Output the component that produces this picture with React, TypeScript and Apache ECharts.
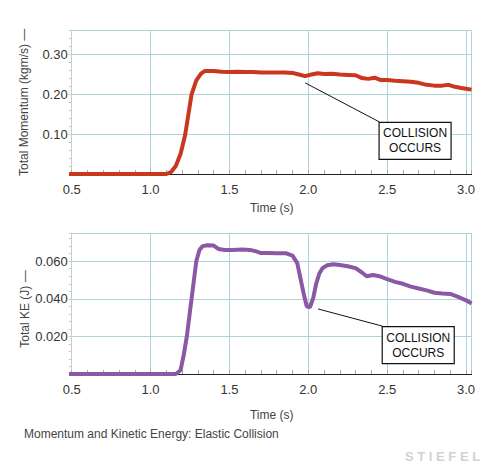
import React, { useEffect, useRef } from "react";
import * as echarts from "echarts";

const momentumTime = [0.475, 1.1, 1.13, 1.16, 1.19, 1.22, 1.24, 1.26, 1.29, 1.32, 1.345, 1.4, 1.45, 1.5, 1.55, 1.6, 1.65, 1.7, 1.75, 1.8, 1.85, 1.9, 1.94, 1.98, 2.02, 2.06, 2.1, 2.15, 2.2, 2.25, 2.3, 2.34, 2.38, 2.42, 2.46, 2.5, 2.55, 2.6, 2.65, 2.7, 2.75, 2.8, 2.85, 2.89, 2.93, 2.97, 3.0, 3.035];
const momentumValue = [0, 0, 0.005, 0.02, 0.05, 0.1, 0.15, 0.2, 0.235, 0.252, 0.259, 0.259, 0.257, 0.256, 0.257, 0.256, 0.256, 0.255, 0.255, 0.255, 0.255, 0.254, 0.25, 0.246, 0.25, 0.253, 0.251, 0.252, 0.25, 0.249, 0.248, 0.241, 0.239, 0.242, 0.236, 0.236, 0.234, 0.233, 0.232, 0.229, 0.224, 0.222, 0.222, 0.224, 0.219, 0.216, 0.214, 0.212];

const keTime = [0.475, 1.16, 1.19, 1.21, 1.23, 1.245, 1.26, 1.275, 1.29, 1.31, 1.33, 1.36, 1.4, 1.43, 1.47, 1.52, 1.58, 1.63, 1.67, 1.7, 1.75, 1.8, 1.86, 1.9, 1.93, 1.95, 1.97, 1.99, 2.01, 2.03, 2.05, 2.07, 2.09, 2.12, 2.16, 2.2, 2.25, 2.3, 2.34, 2.37, 2.41, 2.45, 2.5, 2.55, 2.6, 2.65, 2.7, 2.75, 2.8, 2.85, 2.9, 2.95, 3.0, 3.035];
const keValue = [0, 0, 0.002, 0.01, 0.02, 0.03, 0.04, 0.05, 0.06, 0.066, 0.068, 0.0685, 0.0683, 0.0665, 0.066, 0.066, 0.0662, 0.066, 0.0652, 0.0643, 0.0643, 0.0642, 0.0642, 0.063, 0.059, 0.051, 0.043, 0.036, 0.0355, 0.04, 0.048, 0.0535, 0.0563, 0.0578, 0.0584, 0.058, 0.0573, 0.0563, 0.054, 0.052, 0.0527, 0.052, 0.0505, 0.049, 0.048, 0.0465, 0.0455, 0.0445, 0.0432, 0.0428, 0.0426, 0.041, 0.0392, 0.0375];

const annotationText = ["COLLISION", "OCCURS"];
// [gridIndex, pointer start (t, v), pointer end (t, v), box centre (t, v)]
const annotations = [
  { grid: 0, from: [1.98, 0.229], to: [2.45, 0.131], box: [2.677, 0.083] },
  { grid: 1, from: [2.062, 0.0346], to: [2.468, 0.0255], box: [2.697, 0.0154] },
];

const momentumName = "Total Momentum (kgm/s) —";
const keName = "Total KE (J) —";
const caption = "Momentum and Kinetic Energy: Elastic Collision";
const watermark = "STIEFEL";

const FONT = "'Liberation Sans', Arial, sans-serif";
const GRIDLINE = "#acd5d9";

function makeX(gridIndex: number, nameGap: number) {
  return {
    type: "value",
    gridIndex,
    min: 0.5,
    max: 3.036,
    interval: 0.5,
    name: "Time (s)",
    nameLocation: "middle",
    nameGap,
    nameTextStyle: { fontFamily: FONT, fontSize: 12, color: "#444" },
    axisLine: { show: true, lineStyle: { color: "#222", width: 1 } },
    axisTick: { show: true, inside: true, length: 4, lineStyle: { color: "#aaa" } },
    minorTick: { show: true, splitNumber: 5, length: 4, lineStyle: { color: "#aaa" } },
    axisLabel: {
      fontFamily: FONT,
      fontSize: 13,
      color: "#333",
      margin: 9,
      formatter: (v: number) => (v > 3.01 ? "" : v.toFixed(1)),
    },
    splitLine: { show: true, lineStyle: { color: GRIDLINE, width: 1 } },
  };
}

function makeY(gridIndex: number, max: number, interval: number, digits: number, name: string) {
  return {
    type: "value",
    gridIndex,
    min: 0,
    max,
    interval,
    name,
    nameLocation: "middle",
    nameRotate: 90,
    nameGap: 42,
    nameTextStyle: { fontFamily: FONT, fontSize: 12, color: "#444" },
    axisLine: { show: true, lineStyle: { color: "#ccc", width: 1 } },
    axisTick: { show: true, length: 3, lineStyle: { color: "#ccc" } },
    minorTick: { show: true, splitNumber: 5, length: 3, lineStyle: { color: "#ccc" } },
    axisLabel: {
      fontFamily: FONT,
      fontSize: 13,
      color: "#333",
      margin: 4,
      formatter: (v: number) => (v === 0 || v > max - 1e-9 ? "" : v.toFixed(digits)),
    },
    splitLine: { show: true, lineStyle: { color: GRIDLINE, width: 1 } },
  };
}

export default function App() {
  const ref = useRef<HTMLDivElement>(null);
  useEffect(() => {
    if (!ref.current) return;
    const chart = echarts.init(ref.current, undefined, { renderer: "svg" });
    chart.setOption({
      animation: false,
      backgroundColor: "#fff",
      grid: [
        { left: 71.7, top: 30.7, width: 400, height: 143.3 },
        { left: 71.7, top: 233, width: 400, height: 141 },
      ],
      xAxis: [makeX(0, 28), makeX(1, 35)],
      yAxis: [
        makeY(0, 0.36, 0.1, 2, momentumName),
        makeY(1, 0.075, 0.02, 3, ""),
      ],
      series: [
        {
          type: "line",
          xAxisIndex: 0,
          yAxisIndex: 0,
          clip: false,
          showSymbol: false,
          data: momentumTime.map((t, i) => [t, momentumValue[i]]),
          lineStyle: { color: "#c9371f", width: 4 },
          itemStyle: { color: "#c9371f" },
        },
        {
          type: "line",
          xAxisIndex: 1,
          yAxisIndex: 1,
          clip: false,
          showSymbol: false,
          data: keTime.map((t, i) => [t, keValue[i]]),
          lineStyle: { color: "#8a58a5", width: 4 },
          itemStyle: { color: "#8a58a5" },
        },
      ],
    });

    const graphics: any[] = [];
    annotations.forEach((a) => {
      const p1 = chart.convertToPixel({ gridIndex: a.grid } as any, a.from) as number[];
      const p2 = chart.convertToPixel({ gridIndex: a.grid } as any, a.to) as number[];
      const c = chart.convertToPixel({ gridIndex: a.grid } as any, a.box) as number[];
      const w = 72;
      const h = 37;
      graphics.push({
        type: "line",
        shape: { x1: p1[0], y1: p1[1], x2: p2[0], y2: p2[1] },
        style: { stroke: "#111", lineWidth: 1 },
        z: 10,
      });
      graphics.push({
        type: "rect",
        shape: { x: c[0] - w / 2, y: c[1] - h / 2, width: w, height: h },
        style: { fill: "#fff", stroke: "#111", lineWidth: 1.2 },
        z: 10,
      });
      graphics.push({
        type: "text",
        x: c[0],
        y: c[1],
        style: {
          text: annotationText.join("\n"),
          font: `12px ${FONT}`,
          fill: "#111",
          align: "center",
          verticalAlign: "middle",
          lineHeight: 15,
        },
        z: 11,
      });
    });
    graphics.push({
      type: "text",
      x: 25,
      y: 309,
      rotation: Math.PI / 2,
      style: {
        text: keName,
        font: `12px ${FONT}`,
        fill: "#444",
        align: "center",
        verticalAlign: "middle",
      },
    });
    graphics.push({
      type: "text",
      left: 24,
      top: 428,
      style: { text: caption, font: `12px ${FONT}`, fill: "#444" },
    });
    graphics.push({
      type: "text",
      left: 405,
      top: 450,
      style: { text: watermark.split("").join(" "), font: `bold 13px ${FONT}`, fill: "#d2d2d2" },
    });
    chart.setOption({ graphic: graphics });
    return () => chart.dispose();
  }, []);
  return (
    <div
      ref={ref}
      style={{ position: "fixed", left: 0, top: 0, width: 500, height: 464 }}
    />
  );
}
